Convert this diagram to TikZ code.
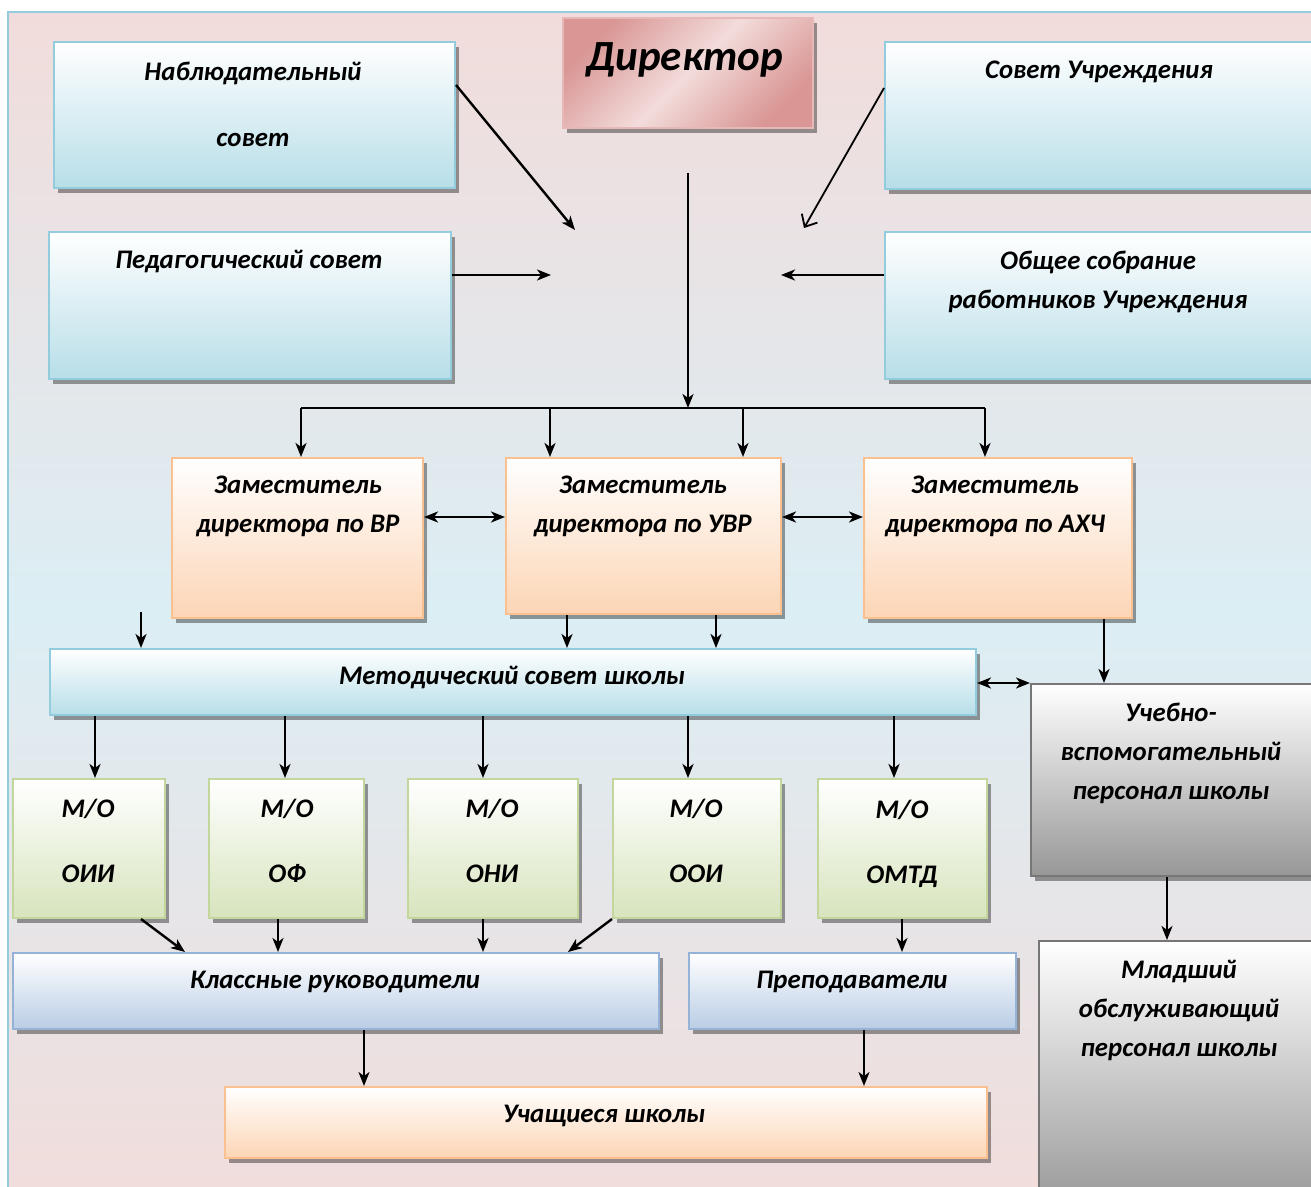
\documentclass[tikz,border=0pt]{standalone}
\usepackage{fontspec}
\setmainfont{Carlito}
\usepackage{tikz}
\usetikzlibrary{arrows.meta,shadows,calc}
\usepackage{xcolor}

\definecolor{bgpink}{HTML}{F2DCDB}
\definecolor{bgblue}{HTML}{DBEEF4}
\definecolor{frameline}{HTML}{93CDDD}
\definecolor{bluefill}{HTML}{B7DEE8}
\definecolor{blueline}{HTML}{93CDDD}
\definecolor{dirlight}{HTML}{F2DCDB}
\definecolor{dirdark}{HTML}{D99694}
\definecolor{dirline}{HTML}{E6B9B8}
\definecolor{orfill}{HTML}{FCD5B5}
\definecolor{orline}{HTML}{FAC090}
\definecolor{grfill}{HTML}{D7E4BD}
\definecolor{grline}{HTML}{C3D69B}
\definecolor{lbfill}{HTML}{B9CDE5}
\definecolor{lbline}{HTML}{95B3D7}
\definecolor{gyfill}{HTML}{979797}
\definecolor{gyline}{HTML}{767676}

\tikzset{
  box/.style={rectangle, anchor=north west, inner sep=0pt, line width=1pt,
    drop shadow={shadow xshift=2pt, shadow yshift=-2.5pt, fill=black, opacity=0.38}},
  sz/.style 2 args={minimum width=#1*0.5pt, minimum height=#2*0.5pt},
  bluebox/.style={box, draw=blueline, top color=white, bottom color=bluefill},
  dirbox/.style={box, draw=dirline, left color=dirdark, right color=dirdark,
    middle color=dirlight, shading angle=45},
  orbox/.style={box, draw=orline, top color=white, bottom color=orfill},
  grbox/.style={box, draw=grline, top color=white, bottom color=grfill},
  lbbox/.style={box, draw=lbline, top color=white, bottom color=lbfill},
  gybox/.style={box, draw=gyline, top color=white, bottom color=gyfill},
  lbl/.style={font=\bfseries\itshape\fontsize{13.4}{19.5}\selectfont, align=center, inner sep=0pt},
  arr/.style={line width=1.2pt, -{Stealth[length=7pt,width=5.5pt,inset=2pt]}},
  darr/.style={line width=1.2pt, {Stealth[length=7pt,width=5.5pt,inset=2pt]}-{Stealth[length=7pt,width=5.5pt,inset=2pt]}},
  oarr/.style={line width=0.9pt, -{Straight Barb[length=5pt,width=9pt]}},
}

\begin{document}
\begin{tikzpicture}[x=0.5pt, y=-0.5pt]

\useasboundingbox (0,0) rectangle (1311,1187);
\clip (0,0) rectangle (1311,1187);

% Background
\fill[white] (0,0) rectangle (1311,1187);
\shade[draw=frameline, line width=1pt, top color=bgpink, bottom color=bgpink,
  middle color=bgblue] (8,12) rectangle (1340,1210);

% Top row
\node[bluebox, sz={401}{146}] (nab) at (53,41) {};
\node[dirbox, sz={250}{110}] (dir) at (562,17) {};
\node[bluebox, sz={440}{147}] (sov) at (884,41) {};
\node[bluebox, sz={402}{147}] (ped) at (48,231) {};
\node[bluebox, sz={440}{147}] (obs) at (884,231) {};

\node[lbl] (nabT) at (253,104) {Наблюдательный\\[13.5pt]совет};
\node[lbl, font=\bfseries\itshape\fontsize{21.5}{25}\selectfont] (dirT) at (685,60) {Директор};
\node[lbl] (sovT) at (1099,72) {Совет Учреждения};
\node[lbl] (pedT) at (249,262) {Педагогический совет};
\node[lbl] (obsT) at (1098,282) {Общее собрание\\работников Учреждения};

% Deputies
\node[orbox, sz={251}{160}] (zvr) at (171,457) {};
\node[orbox, sz={275}{156}] (zuvr) at (505,457) {};
\node[orbox, sz={268}{160}] (zax) at (863,457) {};

\node[lbl] (zvrT) at (298,506) {Заместитель\\директора по ВР};
\node[lbl] (zuvrT) at (643,506) {Заместитель\\директора по УВР};
\node[lbl] (zaxT) at (995,506) {Заместитель\\директора по АХЧ};

% Methodical council and staff
\node[bluebox, sz={926}{66}] (met) at (49,648) {};
\node[gybox, sz={300}{192}] (ucheb) at (1030,683) {};
\node[gybox, sz={290}{270}] (mlad) at (1038,940) {};

\node[lbl] (metT) at (512,678) {Методический совет школы};
\node[lbl] (uchebT) at (1171,753) {Учебно-\\вспомогательный\\персонал школы};
\node[lbl] (mladT) at (1179,1010) {Младший\\обслуживающий\\персонал школы};

% M/O boxes
\node[grbox, sz={152}{139}] (mo1) at (12,778) {};
\node[grbox, sz={155}{139}] (mo2) at (208,778) {};
\node[grbox, sz={170}{139}] (mo3) at (407,778) {};
\node[grbox, sz={168}{139}] (mo4) at (612,778) {};
\node[grbox, sz={169}{139}] (mo5) at (817,778) {};

\node[lbl] (mo1T) at (88,841) {М/О\\[13pt]ОИИ};
\node[lbl] (mo2T) at (287,841) {М/О\\[13pt]ОФ};
\node[lbl] (mo3T) at (492,841) {М/О\\[13pt]ОНИ};
\node[lbl] (mo4T) at (696,841) {М/О\\[13pt]ООИ};
\node[lbl] (mo5T) at (902,844) {М/О\\[13pt]ОМТД};

% Teachers and pupils
\node[lbbox, sz={646}{76}] (kl) at (12,952) {};
\node[lbbox, sz={327}{76}] (prep) at (688,952) {};
\node[orbox, sz={762}{71}] (uch) at (224,1086) {};

\node[lbl] (klT) at (335,982) {Классные руководители};
\node[lbl] (prepT) at (852,982) {Преподаватели};
\node[lbl] (uchT) at (604,1116) {Учащиеся школы};

% Arrows to the director
\coordinate (inNab) at (575,230);
\coordinate (inSov) at (804,228);
\coordinate (inPed) at (551,275);
\coordinate (inObs) at (781,275);
\draw[arr] (nab.east |- 0,85) -- (inNab);
\draw[oarr] (sov.west |- 0,88) -- (inSov);
\draw[arr] (ped.east |- 0,275) -- (inPed);
\draw[arr] (obs.west |- 0,275) -- (inObs);

% Director to deputies
\coordinate (dirOut) at (688,173);
\coordinate (busL) at (301,408);
\coordinate (busR) at (985,408);
\draw[arr] (dirOut) -- (dirOut |- busL);
\draw[line width=1.2pt] (busL) -- (busR);
\draw[arr] (busL) -- (busL |- zvr.north);
\draw[arr] (busL -| 550,0) -- (zuvr.north -| 550,0);
\draw[arr] (busL -| 743,0) -- (zuvr.north -| 743,0);
\draw[arr] (busR) -- (busR |- zax.north);
\draw[darr] (zvr.east |- 0,517) -- (zuvr.west |- 0,517);
\draw[darr] (zuvr.east |- 0,517) -- (zax.west |- 0,517);

% Deputies to council and staff
\coordinate (metIn) at (141,612);
\draw[arr] (metIn) -- (metIn |- met.north);
\draw[arr] (zuvr.south -| 567,0) -- (met.north -| 567,0);
\draw[arr] (zuvr.south -| 716,0) -- (met.north -| 716,0);
\draw[darr] (met.east |- 0,683) -- (ucheb.west |- 0,683);
\draw[arr] (zax.south -| 1104,0) -- (ucheb.north -| 1104,0);
\draw[arr] (ucheb.south -| 1167,0) -- (mlad.north -| 1167,0);

% Council to M/O
\draw[arr] (met.south -| 95,0) -- (mo1.north -| 95,0);
\draw[arr] (met.south -| 285,0) -- (mo2.north -| 285,0);
\draw[arr] (met.south -| 483,0) -- (mo3.north -| 483,0);
\draw[arr] (met.south -| 688,0) -- (mo4.north -| 688,0);
\draw[arr] (met.south -| 894,0) -- (mo5.north -| 894,0);

% M/O to teachers
\draw[arr] (mo1.south -| 141,0) -- (kl.north -| 185,0);
\draw[arr] (mo2.south -| 278,0) -- (kl.north -| 278,0);
\draw[arr] (mo3.south -| 483,0) -- (kl.north -| 483,0);
\draw[arr] (mo4.south -| 612,0) -- (kl.north -| 568,0);
\draw[arr] (mo5.south -| 902,0) -- (prep.north -| 902,0);

% Teachers to pupils
\draw[arr] (kl.south -| 364,0) -- (uch.north -| 364,0);
\draw[arr] (prep.south -| 864,0) -- (uch.north -| 864,0);

\end{tikzpicture}
\end{document}
